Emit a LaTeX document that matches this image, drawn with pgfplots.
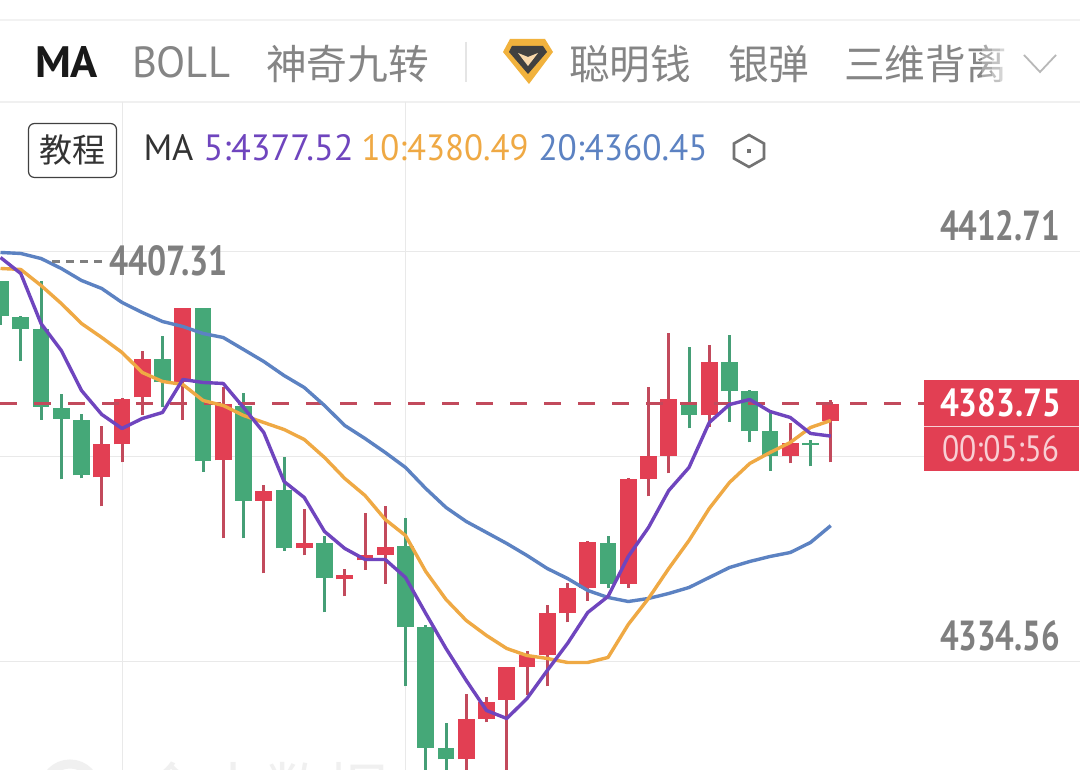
\documentclass[border=0pt]{standalone}
\usepackage{fontspec}
\usepackage{pgfplots}
\usepackage{pgfplotstable}
\pgfplotsset{compat=1.18}
\setmainfont{PT Sans}
\newfontfamily\cjk{Noto Sans CJK SC}
\definecolor{cgreen}{HTML}{45A878}
\definecolor{cred}{HTML}{E23F53}
\definecolor{wgreen}{HTML}{459E76}
\definecolor{wred}{HTML}{C24A5C}
\definecolor{ma5}{HTML}{6F45BE}
\definecolor{ma10}{HTML}{EFA944}
\definecolor{ma20}{HTML}{5C82C2}
\definecolor{gridc}{HTML}{E9E9E9}
\definecolor{lab}{HTML}{7F7F7F}
\definecolor{tabgrey}{HTML}{858585}
\pgfplotstableread{
i low bot top high
0 4398.79 4400.32 4406.99 4406.99
1 4391.74 4397.84 4400.13 4400.32
2 4380.68 4383.16 4397.84 4406.99
3 4369.25 4380.87 4382.78 4385.45
4 4369.44 4370.01 4380.68 4381.64
8 4382.97 4387.74 4392.12 4396.51
10 4370.77 4372.68 4401.84 4401.84
12 4358.00 4365.24 4383.35 4385.64
14 4355.71 4356.10 4367.15 4373.44
16 4343.90 4350.38 4357.05 4358.57
20 4329.79 4341.04 4356.48 4362.00
21 4309.97 4318.16 4341.04 4341.42
22 4309.97 4315.88 4318.16 4322.74
30 4348.47 4349.42 4357.05 4358.57
34 4378.97 4381.45 4383.92 4394.41
36 4380.30 4386.02 4391.55 4396.70
37 4376.30 4378.40 4386.02 4386.40
38 4370.96 4373.63 4378.40 4382.02
40 4371.73 4375.73 4376.11 4376.68
}\greencandles
\pgfplotstableread{
i low bot top high
5 4364.10 4369.63 4375.92 4379.35
6 4372.49 4375.92 4384.50 4384.69
7 4381.45 4384.88 4392.12 4393.65
9 4380.68 4387.74 4401.84 4401.84
11 4358.00 4372.87 4383.73 4386.97
13 4351.33 4365.24 4366.96 4368.29
15 4354.76 4356.10 4357.05 4363.53
17 4346.95 4350.19 4350.95 4352.28
18 4352.09 4353.81 4354.76 4362.77
19 4349.42 4354.95 4356.29 4364.10
23 4309.97 4315.88 4323.69 4328.27
24 4322.93 4323.69 4326.93 4327.88
25 4309.97 4327.31 4333.60 4333.60
26 4328.08 4333.60 4335.70 4336.65
27 4329.79 4335.70 4343.71 4345.23
28 4341.99 4343.71 4348.66 4349.61
29 4346.18 4348.66 4357.24 4357.43
31 4348.66 4349.42 4369.25 4369.44
32 4366.01 4369.25 4373.63 4386.97
33 4370.39 4373.82 4384.50 4397.08
35 4379.16 4381.45 4391.55 4394.79
39 4372.30 4373.63 4376.11 4379.92
41 4372.49 4380.49 4383.73 4384.31
}\redcandles
\pgfplotstableread{
i ma5 ma10 ma20
0 4411.56 4409.47 4412.52
1 4408.51 4409.28 4412.33
2 4398.98 4406.23 4411.37
3 4393.84 4402.80 4409.47
4 4386.21 4398.98 4407.18
5 4381.64 4396.31 4405.65
6 4378.97 4393.46 4402.99
7 4380.87 4389.64 4401.08
8 4382.02 4387.93 4399.36
9 4388.31 4387.36 4398.41
10 4387.74 4384.31 4397.08
11 4387.55 4383.35 4396.31
12 4382.97 4381.45 4394.03
13 4378.21 4380.11 4391.74
14 4368.87 4378.78 4389.07
15 4365.82 4376.87 4386.78
16 4359.34 4373.44 4383.35
17 4356.10 4369.44 4379.54
18 4354.00 4366.20 4377.06
19 4354.00 4361.62 4374.39
20 4350.57 4358.57 4371.54
21 4343.71 4351.71 4367.53
22 4337.03 4346.38 4363.91
23 4330.94 4342.37 4361.24
24 4325.22 4339.51 4359.15
25 4323.69 4337.03 4357.05
26 4327.50 4335.70 4354.76
27 4332.84 4335.13 4352.28
28 4337.99 4334.37 4350.38
29 4343.90 4334.37 4348.09
30 4346.95 4335.32 4346.76
31 4354.57 4341.61 4345.99
32 4360.10 4346.57 4346.57
33 4367.15 4352.28 4347.52
34 4371.54 4357.62 4348.66
35 4380.11 4363.72 4350.57
36 4383.54 4368.68 4352.47
37 4384.50 4372.30 4353.62
38 4382.21 4374.39 4354.57
39 4381.07 4376.30 4355.33
40 4378.02 4379.16 4357.24
41 4377.52 4380.49 4360.45
}\malines
% pixel helpers: x and y measured from the picture's top left corner
\def\Lbl#1#2#3#4{\node[inner sep=0pt,outer sep=0pt,anchor=#3] at ({#1pt},{(770-#2)*1pt}) {#4};}
\def\Fit#1#2#3{\resizebox{#1pt}{#2pt}{#3}}
\tikzset{px/.style={x=1pt,y=-1pt,yshift=770pt}}
\begin{document}
\begin{tikzpicture}
\useasboundingbox (0,0) rectangle (1080pt,770pt);
\clip (0,0) rectangle (1080pt,770pt);
\fill[white] (0,0) rectangle (1080pt,770pt);
% frame and grid
\begin{scope}[px]
\draw[line width=1.5pt,color=black!5] (0,20) -- (1080,20);
\draw[line width=1.5pt,color=black!6] (0,102) -- (1080,102);
\draw[line width=1pt,color=gridc] (122,102) -- (122,770);
\draw[line width=1pt,color=gridc] (405,102) -- (405,770);
\draw[line width=1pt,color=gridc] (0,251.5) -- (1080,251.5);
\draw[line width=1pt,color=gridc] (0,456.5) -- (925,456.5);
\draw[line width=1pt,color=gridc] (0,661.5) -- (1080,661.5);
\draw[line width=2.5pt,color=black!10] (466,42) -- (466,82);
\end{scope}
% faint watermark, cut by the lower edge
\draw[line width=9pt,color=black!6] (70pt,{(770-790)*1pt}) circle (26pt);
\Lbl{140}{762}{north west}{\fontsize{62pt}{62pt}\selectfont\cjk\color{black!6}金十数据}
\begin{axis}[
  at={(0pt,-0.5pt)},anchor=south west,
  scale only axis,width=1080pt,height=770pt,
  hide axis,clip=true,
  xmin=-0.025,xmax=53.31,
  ymin=4313.78,ymax=4460.55,
  error bars/error mark=none,
]
\addplot[draw=none,mark=none,forget plot,
  error bars/.cd,y dir=plus,y explicit,
  error bar style={line width=3pt,color=wgreen}]
  table[x=i,y=low,y error plus expr=\thisrow{high}-\thisrow{low}] {\greencandles};
\addplot[draw=none,mark=none,forget plot,
  error bars/.cd,y dir=plus,y explicit,
  error bar style={line width=3pt,color=wred}]
  table[x=i,y=low,y error plus expr=\thisrow{high}-\thisrow{low}] {\redcandles};
\addplot[draw=none,mark=none,forget plot,
  error bars/.cd,y dir=plus,y explicit,
  error bar style={line width=16.7pt,color=cgreen}]
  table[x=i,y=bot,y error plus expr=\thisrow{top}-\thisrow{bot}] {\greencandles};
\addplot[draw=none,mark=none,forget plot,
  error bars/.cd,y dir=plus,y explicit,
  error bar style={line width=16.7pt,color=cred}]
  table[x=i,y=bot,y error plus expr=\thisrow{top}-\thisrow{bot}] {\redcandles};
% last price line
\addplot[color=wred,line width=3.2pt,dash pattern=on 17pt off 17pt,forget plot]
  coordinates {(-0.025,4383.75) (45.6,4383.75)};
% moving averages
\addplot[color=ma20,line width=3.4pt,line join=round] table[x=i,y=ma20] {\malines};
\addplot[color=ma10,line width=3.4pt,line join=round] table[x=i,y=ma10] {\malines};
\addplot[color=ma5,line width=3.4pt,line join=round] table[x=i,y=ma5] {\malines};
% high marker
\addplot[color=lab,line width=2.4pt,dash pattern=on 8pt off 6pt,forget plot]
  coordinates {(2.55,4410.80) (5.05,4410.80)};
\end{axis}
% top tabs
\Lbl{35}{47}{north west}{\Fit{63}{31}{\bfseries\color{black!90}MA}}
\Lbl{132}{47}{north west}{\Fit{98}{31}{\color{tabgrey}BOLL}}
\Lbl{266}{64}{west}{\fontsize{40.7pt}{40.7pt}\selectfont\cjk\color{tabgrey}神奇九转}
\begin{scope}[px]
\fill[color=ma10!90!yellow] (510,39) -- (545,39) -- (553,52) -- (529,84) -- (503,52) -- cycle;
\fill[color=black!75] (512,46) -- (543,46) -- (547,52) -- (528,74) -- (509,52) -- cycle;
\fill[color=ma10!45!white] (518,53) -- (528,57) -- (538,53) -- (528,66) -- cycle;
\end{scope}
\Lbl{569}{64}{west}{\fontsize{40.7pt}{40.7pt}\selectfont\cjk\color{tabgrey}聪明钱}
\Lbl{728}{64}{west}{\fontsize{40.7pt}{40.7pt}\selectfont\cjk\color{tabgrey}银弹}
\Lbl{844}{64}{west}{\fontsize{40.7pt}{40.7pt}\selectfont\cjk\color{tabgrey}三维背离}
\begin{scope}[px]
\fill[white,opacity=0.3] (982,40) rectangle (1012,85);
\fill[white,opacity=0.3] (992,40) rectangle (1012,85);
\fill[white,opacity=0.3] (1000,40) rectangle (1012,85);
\draw[line width=1.8pt,color=black!28] (1024,55) -- (1040,72) -- (1056,55);
% tutorial button
\draw[line width=1.2pt,color=black!75,rounded corners=6pt] (28.5,123.5) rectangle (116.5,177.5);
% hexagon icon
\draw[line width=2.6pt,color=black!55] (749,135) -- (764,143.5) -- (764,158.5) -- (749,167) -- (734,158.5) -- (734,143.5) -- cycle;
\fill[color=black!55] (746.8,148.8) rectangle (751.2,153.2);
\end{scope}
\Lbl{72.5}{150.5}{center}{\fontsize{33pt}{33pt}\selectfont\cjk\color{black!80}教程}
% MA legend
\Lbl{143.5}{135}{north west}{\Fit{50}{26}{\color{black!80}MA}}
\Lbl{203.5}{135}{north west}{\Fit{150}{26}{\color{ma5}5:4377.52}}
\Lbl{361.5}{135}{north west}{\Fit{167}{26}{\color{ma10}10:4380.49}}
\Lbl{538.5}{135}{north west}{\Fit{169}{26}{\color{ma20}20:4360.45}}
% price labels
\Lbl{940}{211}{north west}{\Fit{120}{30}{\bfseries\color{lab}4412.71}}
\Lbl{940}{621}{north west}{\Fit{120}{30}{\bfseries\color{lab}4334.56}}
\Lbl{109}{246}{north west}{\Fit{119}{30}{\bfseries\color{lab}4407.31}}
% current price box
\begin{scope}[px]
\fill[color=cred] (924,380) rectangle (1079,471);
\draw[line width=1pt,color=white!75!cred] (924,427) -- (1079,427);
\end{scope}
\Lbl{940}{389}{north west}{\Fit{121}{28}{\bfseries\color{white}4383.75}}
\Lbl{942}{436}{north west}{\Fit{117}{26}{\color{white!75!cred}00:05:56}}
\end{tikzpicture}
\end{document}
